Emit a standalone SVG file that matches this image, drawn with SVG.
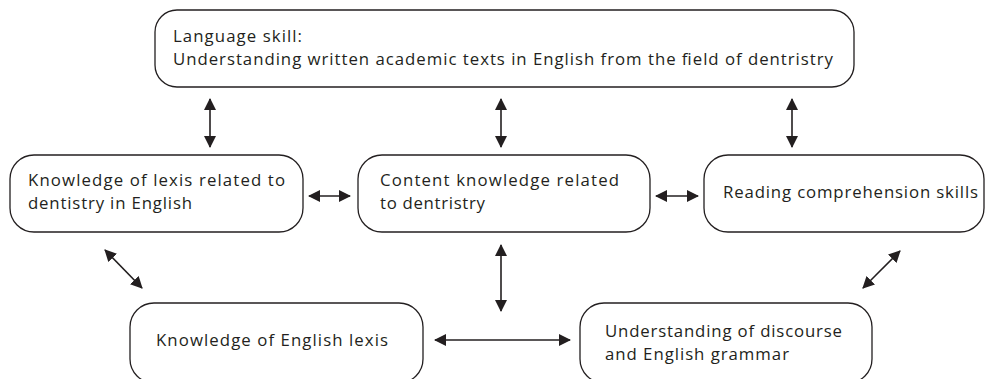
<svg xmlns="http://www.w3.org/2000/svg" width="989" height="379" viewBox="0 0 989 379">
<style>
.box{fill:#fff;stroke:#231f20;stroke-width:1.3}
.t{font-family:"Open Sans","Noto Sans",sans-serif;font-size:16.8px;fill:#231f20}
.c{stroke:#231f20;stroke-width:1.6;fill:none;marker-start:url(#ah);marker-end:url(#ah)}
</style>
<defs>
<marker id="ah" viewBox="0 0 12 12" refX="11" refY="6" markerWidth="12" markerHeight="12" markerUnits="userSpaceOnUse" orient="auto-start-reverse">
<path d="M0,0 L12,6 L0,12 Z" fill="#231f20"/>
</marker>
</defs>
<rect width="989" height="379" fill="#fff"/>
<g id="connectors">
<line class="c" x1="210" y1="99" x2="210" y2="147"/>
<line class="c" x1="501" y1="99" x2="501" y2="147"/>
<line class="c" x1="792" y1="99" x2="792" y2="147"/>
<line class="c" x1="309" y1="196" x2="350" y2="196"/>
<line class="c" x1="656" y1="196" x2="698" y2="196"/>
<line class="c" x1="501" y1="245" x2="501" y2="311"/>
<line class="c" x1="435" y1="340" x2="570" y2="340"/>
<line class="c" x1="105" y1="250" x2="142" y2="288"/>
<line class="c" x1="900" y1="251" x2="863" y2="288"/>
</g>
<g id="n-top">
<rect class="box" x="155" y="10" width="699" height="77" rx="22"/>
<text class="t" x="173" y="42" textLength="129" lengthAdjust="spacing">Language skill:</text>
<text class="t" x="173" y="65" textLength="660" lengthAdjust="spacing">Understanding written academic texts in English from the field of dentristry</text>
</g>
<g id="n-lexis-dent">
<rect class="box" x="10" y="155" width="293" height="77" rx="24"/>
<text class="t" x="28" y="186" textLength="257" lengthAdjust="spacing">Knowledge of lexis related to</text>
<text class="t" x="28" y="209" textLength="164" lengthAdjust="spacing">dentistry in English</text>
</g>
<g id="n-content">
<rect class="box" x="358" y="155" width="292" height="77" rx="24"/>
<text class="t" x="380" y="186" textLength="239" lengthAdjust="spacing">Content knowledge related</text>
<text class="t" x="380" y="209" textLength="105" lengthAdjust="spacing">to dentristry</text>
</g>
<g id="n-reading">
<rect class="box" x="704" y="155" width="280" height="77" rx="24"/>
<text class="t" x="723" y="198" textLength="255" lengthAdjust="spacing">Reading comprehension skills</text>
</g>
<g id="n-english-lexis">
<rect class="box" x="130" y="303" width="293" height="80" rx="24"/>
<text class="t" x="156" y="346" textLength="232" lengthAdjust="spacing">Knowledge of English lexis</text>
</g>
<g id="n-discourse">
<rect class="box" x="580" y="303" width="292" height="80" rx="24"/>
<text class="t" x="605" y="337" textLength="237" lengthAdjust="spacing">Understanding of discourse</text>
<text class="t" x="605" y="360" textLength="184" lengthAdjust="spacing">and English grammar</text>
</g>
</svg>
